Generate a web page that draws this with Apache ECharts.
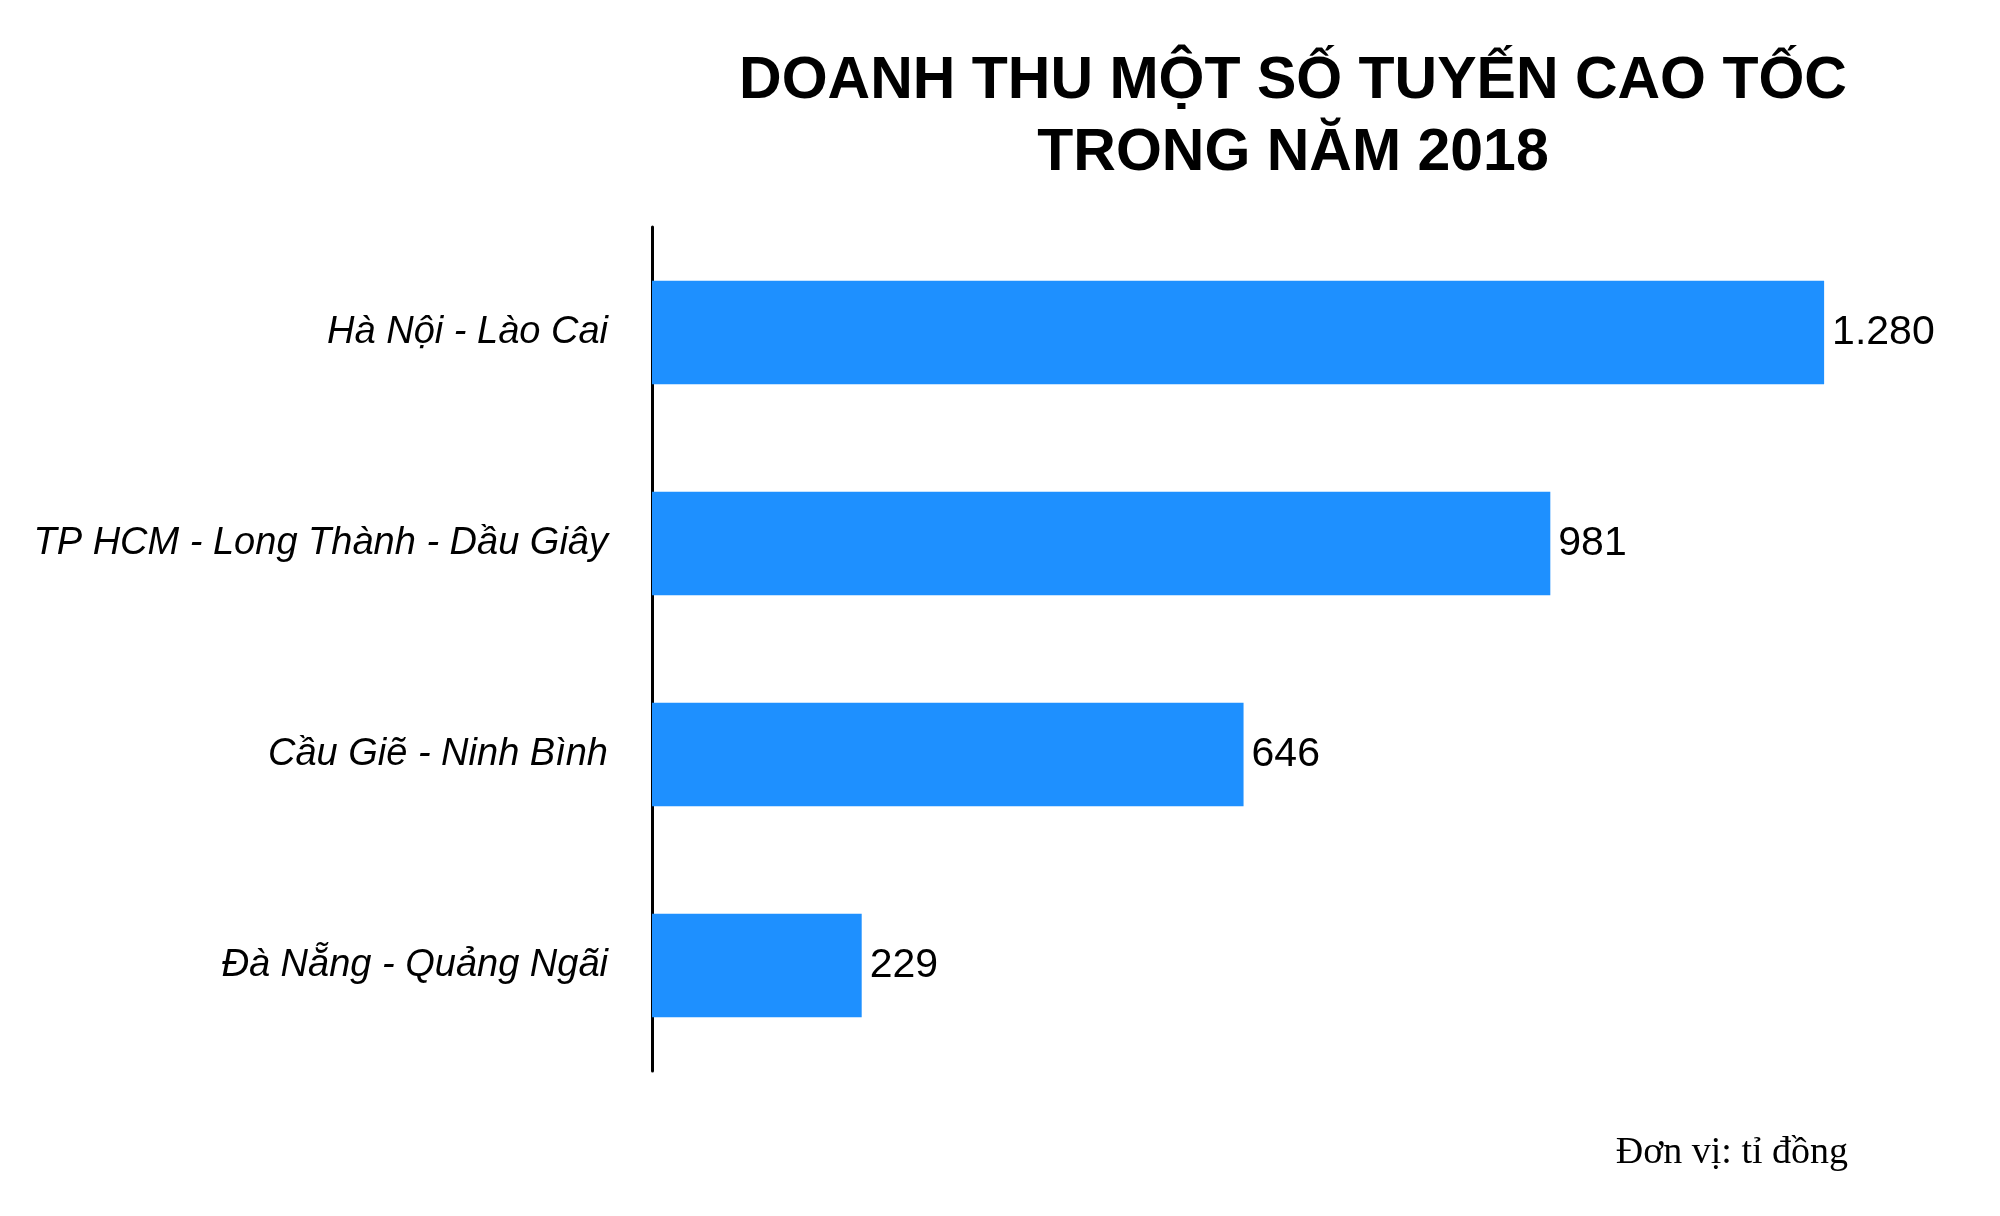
<!DOCTYPE html>
<html style="height: 100%">
<head>
    <meta charset="utf-8">
    <title>Doanh thu một số tuyến cao tốc 2018</title>
    <script src="https://cdn.jsdelivr.net/npm/echarts@6.0.0/dist/echarts.min.js"></script>
</head>
<body style="height: 100%; margin: 0; background: #fff">
    <div id="chart" style="width: 2000px; height: 1216px;"></div>

    <script type="text/javascript">
    // data (tỉ đồng)
    var routes = ['Hà Nội - Lào Cai', 'TP HCM - Long Thành - Dầu Giây', 'Cầu Giẽ - Ninh Bình', 'Đà Nẵng - Quảng Ngãi'];
    var revenue = [1280, 981, 646, 229];
    var titleText = 'DOANH THU MỘT SỐ TUYẾN CAO TỐC\nTRONG NĂM 2018';
    var unitText = 'Đơn vị: tỉ đồng';

    // 1280 -> "1.280"
    function dotThousands(v) {
        return String(v).replace(/\B(?=(\d{3})+(?!\d))/g, '.');
    }

    var myChart = echarts.init(document.getElementById('chart'));

    var option = {
        backgroundColor: '#ffffff',
        animation: false,
        graphic: [
            {
                type: 'text',
                x: 1293,
                y: 118,
                style: {
                    text: titleText,
                    textAlign: 'center',
                    textVerticalAlign: 'middle',
                    fontFamily: 'Liberation Sans, Arial, sans-serif',
                    fontWeight: 'bold',
                    fontSize: 59,
                    lineHeight: 72,
                    fill: '#000'
                }
            },
            {
                type: 'text',
                x: 1848,
                y: 1153,
                style: {
                    text: unitText,
                    textAlign: 'right',
                    textVerticalAlign: 'middle',
                    fontFamily: 'Liberation Serif, Times New Roman, serif',
                    fontSize: 38,
                    fill: '#000'
                }
            }
        ],
        grid: {
            left: 652,
            right: 66,
            top: 227,
            bottom: 145,
            containLabel: false
        },
        xAxis: {
            type: 'value',
            min: 0,
            max: 1400,
            axisLine: { show: false },
            axisTick: { show: false },
            axisLabel: { show: false },
            splitLine: { show: false }
        },
        yAxis: {
            type: 'category',
            inverse: true,
            data: routes,
            axisLine: {
                show: true,
                lineStyle: { color: '#000', width: 3 }
            },
            axisTick: { show: false },
            axisLabel: {
                margin: 44,
                color: '#000',
                fontFamily: 'Liberation Sans, Arial, sans-serif',
                fontStyle: 'italic',
                fontSize: 38
            },
            splitLine: { show: false }
        },
        series: [
            {
                type: 'bar',
                data: revenue,
                barWidth: '49%',
                itemStyle: { color: '#1E90FF' },
                label: {
                    show: true,
                    position: 'right',
                    distance: 8,
                    color: '#000',
                    fontFamily: 'Liberation Sans, Arial, sans-serif',
                    fontSize: 41,
                    formatter: function (p) { return dotThousands(p.value); }
                }
            }
        ]
    };

    myChart.setOption(option);
    window.onresize = function () {
        myChart.resize();
    };
    </script>
</body>
</html>
